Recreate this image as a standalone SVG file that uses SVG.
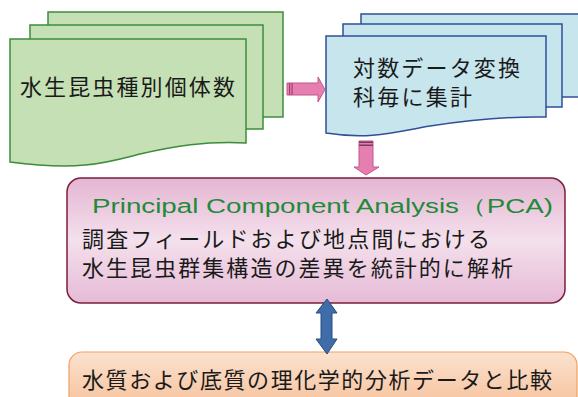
<svg xmlns="http://www.w3.org/2000/svg" width="578" height="397" viewBox="0 0 578 397">
<defs>
<linearGradient id="gPink" x1="0" y1="0" x2="0" y2="1">
<stop offset="0" stop-color="#E4B6D2"/>
<stop offset="0.5" stop-color="#F4E0EC"/>
<stop offset="1" stop-color="#E6BAD6"/>
</linearGradient>
<linearGradient id="gOrange" x1="0" y1="0" x2="0" y2="1">
<stop offset="0" stop-color="#FBE2CF"/>
<stop offset="1" stop-color="#F5B98E"/>
</linearGradient>
</defs>
<style>
.jp{font-family:"Noto Sans CJK JP","Noto Sans",sans-serif;font-size:22px;fill:#1a1a1a;}
.en{font-family:"Liberation Sans","DejaVu Sans",sans-serif;font-size:20px;fill:#1F8A3A;}
.green{fill:#C5E0B4;stroke:#3C8C3C;stroke-width:1.5;}
.blue{fill:#C7E5EC;stroke:#2F4F98;stroke-width:1.5;}
.pinkArrow{fill:#E57FB0;stroke:#C2578F;stroke-width:1;}
.blueArrow{fill:#3F6DAA;stroke:#2B4C7E;stroke-width:1;}
</style>
<rect width="578" height="397" fill="#FFFFFF"/>

<g id="species-counts">
<rect class="green" x="48" y="12" width="235" height="105"/>
<rect class="green" x="30" y="25" width="233" height="104"/>
<path class="green" d="M10,39 H246 V143 C205,141 175,146 140,154 C105,163 80,171 10,162 Z"/>
<text class="jp" x="20" y="95" textLength="215" lengthAdjust="spacing">水生昆虫種別個体数</text>
</g>

<g id="log-transform">
<rect class="blue" x="361" y="14" width="230" height="83"/>
<rect class="blue" x="343" y="24" width="219" height="83"/>
<path class="blue" d="M326,36 H546 V117 C505,116 470,120 430,126 C395,132 370,140 326,133 Z"/>
<text class="jp" x="353" y="76" textLength="167" lengthAdjust="spacing">対数データ変換</text>
<text class="jp" x="353" y="105" textLength="119" lengthAdjust="spacing">科毎に集計</text>
</g>

<g id="pca">
<rect x="67" y="178" width="498" height="125" rx="14" ry="14" fill="url(#gPink)" stroke="#7B1F3A" stroke-width="1.5"/>
<text class="en" x="92" y="213" textLength="461" lengthAdjust="spacingAndGlyphs">Principal Component Analysis（PCA)</text>
<text class="jp" x="82" y="247" textLength="408" lengthAdjust="spacing">調査フィールドおよび地点間における</text>
<text class="jp" x="82" y="276" textLength="431" lengthAdjust="spacing">水生昆虫群集構造の差異を統計的に解析</text>
</g>

<g id="compare">
<rect x="69" y="352" width="508" height="70" rx="13" ry="13" fill="url(#gOrange)" stroke="#F0A060" stroke-width="1.2"/>
<text class="jp" x="82" y="388" textLength="470" lengthAdjust="spacing">水質および底質の理化学的分析データと比較</text>
</g>

<g id="connectors">
<path class="pinkArrow" d="M287,83 H318 V77 L325,89.5 L318,102 V95 H287 Z"/>
<rect x="289" y="83" width="1.2" height="12" fill="#A8406F"/>
<rect x="291.5" y="83" width="1.2" height="12" fill="#A8406F"/>
<path class="pinkArrow" d="M359,141 H373 V167 H379 L366,175 L354,167 H359 Z"/>
<rect x="359" y="141.5" width="14" height="1.5" fill="#7B3A5A"/>
<rect x="359" y="144.5" width="14" height="1.5" fill="#7B3A5A"/>
<path class="blueArrow" d="M327,299 L337,313 H332 V339 H337 L327,354 L316,339 H321 V313 H316 Z"/>
</g>
</svg>
